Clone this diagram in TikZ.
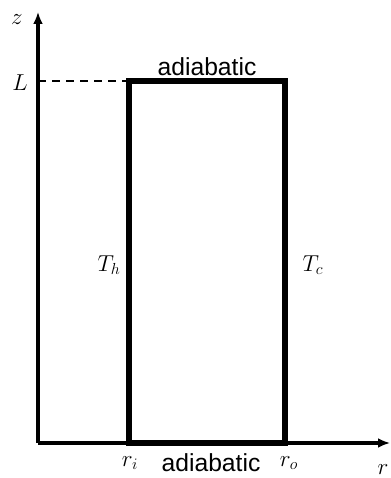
\documentclass[tikz,border=0pt]{standalone}
\usepackage{fontspec}
\setmainfont{Liberation Sans}
\usepackage{xcolor}
\usepackage{tikz}
\usetikzlibrary{arrows.meta}
\tikzset{
  axis/.style={draw=black,line width=2.6pt,-{Latex[length=9pt,width=7.5pt]}},
  wall/.style={draw=black,line width=4.2pt},
  guide/.style={draw=black,dash pattern=on 6pt off 4.5pt,line width=1.4pt},
  mathlabel/.style={font=\fontsize{17.28}{20}\selectfont,inner sep=0pt},
  textlabel/.style={font=\fontsize{18.5}{22}\selectfont,inner sep=0pt}
}

\begin{document}
\begin{tikzpicture}[x=0.75pt,y=0.75pt]
  \useasboundingbox (0,0) rectangle (390,478);
  \coordinate (o) at (38,35);
  \coordinate (ztip) at (38,466);
  \coordinate (rtip) at (390,35);
  \coordinate (ri) at (129,35);
  \coordinate (ro) at (285,35);
  \coordinate (li) at (129,397);
  \coordinate (lo) at (285,397);
  \coordinate (lz) at (38,397);
  \draw[guide] (lz)--(li);
  \draw[wall] (ri)--(li)--(lo)--(ro)--cycle;
  \draw[axis] (o)--(ztip);
  \draw[axis] (o)--(rtip);
  \node[mathlabel] (zlab) at (17,458) {$z$};
  \node[mathlabel] (llab) at (20,395) {$L$};
  \node[mathlabel] (rlab) at (383,8) {$r$};
  \node[mathlabel] (rilab) at (130,15) {$r_i$};
  \node[mathlabel] (rolab) at (289,15) {$r_o$};
  \node[mathlabel] (th) at (109,213) {$T_h$};
  \node[mathlabel] (tc) at (313,213) {$T_c$};
  \node[textlabel] (topad) at (207,411) {adiabatic};
  \node[textlabel] (botad) at (211,15) {adiabatic};
\end{tikzpicture}
\end{document}
